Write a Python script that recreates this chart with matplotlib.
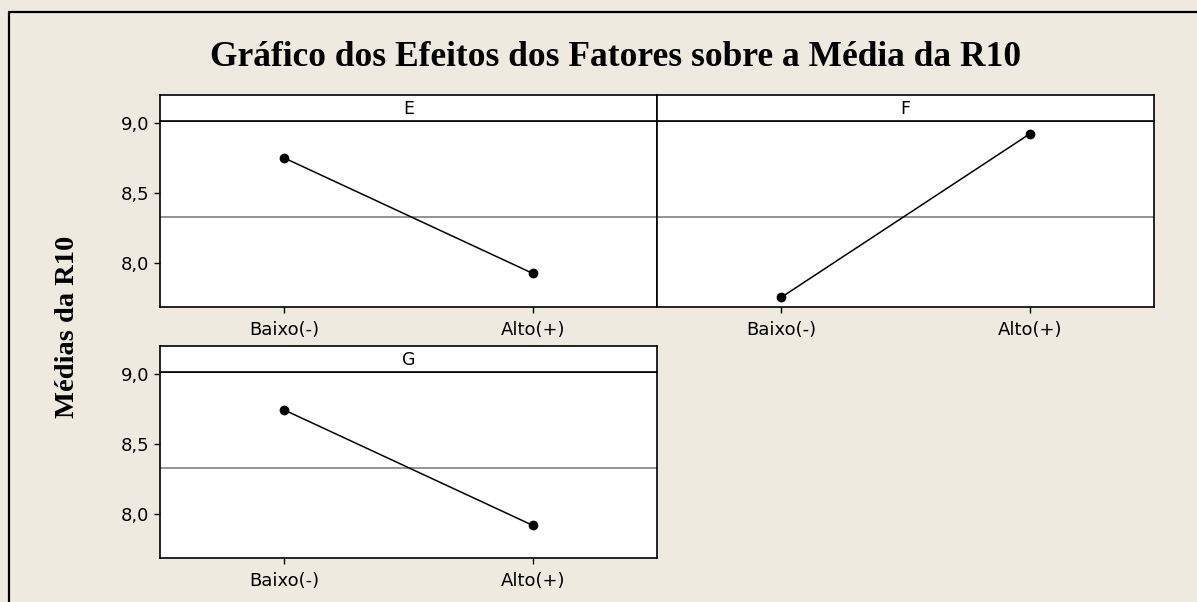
import matplotlib
matplotlib.use('Agg')
import matplotlib.pyplot as plt
from matplotlib.lines import Line2D

levels = ['Baixo(-)', 'Alto(+)']
factors = ['E', 'F', 'G']
means_E = [8.752, 7.928]
means_F = [7.757, 8.924]
means_G = [8.745, 7.921]
grand_mean = 8.334
yticks = [8.0, 8.5, 9.0]
ytick_labels = ['8,0', '8,5', '9,0']

W, H = 1197, 602
bg = '#EEEAE0'

fig = plt.figure(figsize=(W / 100, H / 100), dpi=100, facecolor=bg)


def px_axes(x0, y0, x1, y1):
    # pixel box (top-left origin) -> figure axes
    return fig.add_axes([x0 / W, 1 - y1 / H, (x1 - x0) / W, (y1 - y0) / H])


# outer frame (only left and top visible)
fig.add_artist(Line2D([9 / W, 9 / W, 1.0], [0.0, 1 - 12 / H, 1 - 12 / H],
                      transform=fig.transFigure, color='black', lw=1.6))

panels = [
    ('E', means_E, (160, 95, 657, 121, 307), True),
    ('F', means_F, (657, 95, 1154, 121, 307), False),
    ('G', means_G, (160, 346, 657, 372, 558), True),
]

for name, vals, (x0, ys, x1, y0, y1), show_y in panels:
    ax = px_axes(x0, y0, x1, y1)
    ax.set_facecolor('white')
    ax.axhline(grand_mean, color='#808080', lw=1.2, zorder=1)
    ax.plot([0, 1], vals, color='black', lw=1.1, marker='o', markersize=6, zorder=3)
    ax.set_xlim(-0.5, 1.5)
    ax.set_ylim(7.688, 9.016)
    ax.set_xticks([0, 1])
    ax.set_xticklabels(levels, fontsize=13)
    ax.set_yticks(yticks)
    if show_y:
        ax.set_yticklabels(ytick_labels, fontsize=13)
    else:
        ax.set_yticks([])
    ax.tick_params(axis='x', direction='out', length=4, width=1, pad=6)
    ax.tick_params(axis='y', direction='out', length=4, width=1, pad=4)
    for s in ax.spines.values():
        s.set_linewidth(1.2)

    strip = px_axes(x0, ys, x1, y0)
    strip.set_facecolor('white')
    strip.set_xticks([])
    strip.set_yticks([])
    for s in strip.spines.values():
        s.set_linewidth(1.2)
    strip.text(0.5, 0.45, name, ha='center', va='center', fontsize=12.5,
               transform=strip.transAxes)

fig.text(616 / W, 1 - 57 / H, 'Gráfico dos Efeitos dos Fatores sobre a Média da R10',
         ha='center', va='center', fontsize=25.5, fontweight='bold',
         family='Liberation Serif')
fig.text(68 / W, 1 - 327 / H, 'Médias da R10', ha='center', va='center',
         rotation=90, fontsize=20.5, fontweight='bold', family='Liberation Serif')

fig.savefig('out.png', dpi=100, facecolor=bg)
